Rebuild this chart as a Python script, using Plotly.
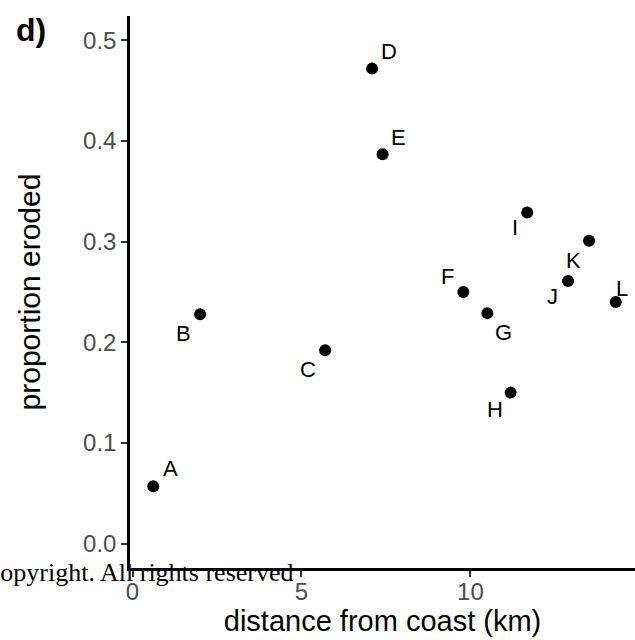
import plotly.graph_objects as go

# data
sites = ["A", "B", "C", "D", "E", "F", "G", "H", "I", "J", "K", "L"]
distance_km = [0.615, 2.00, 5.70, 7.09, 7.40, 9.79, 10.50, 11.19, 11.68, 12.89, 13.51, 14.30]
prop_eroded = [0.057, 0.228, 0.192, 0.472, 0.387, 0.250, 0.229, 0.150, 0.329, 0.261, 0.301, 0.240]
x_ticks = [0, 5, 10]
y_ticks = [0.0, 0.1, 0.2, 0.3, 0.4, 0.5]
y_tick_text = ["0.0", "0.1", "0.2", "0.3", "0.4", "0.5"]

# label offsets (pixels, right / up)
label_shift = {
    "A": (17, 18), "B": (-17, -19), "C": (-17, -19), "D": (17, 17),
    "E": (16, 17), "F": (-16, 16), "G": (16, -19), "H": (-16, -17),
    "I": (-12, -15), "J": (-16, -16), "K": (-16, -20), "L": (6, 14),
}

FONT = "Liberation Sans, Arial, sans-serif"

fig = go.Figure()
fig.add_trace(go.Scatter(
    x=distance_km, y=prop_eroded, mode="markers",
    marker=dict(color="black", size=12),
    hoverinfo="skip", showlegend=False,
))

for s, xv, yv in zip(sites, distance_km, prop_eroded):
    dx, dy = label_shift[s]
    fig.add_annotation(x=xv, y=yv, text=s, showarrow=False,
                       xshift=dx, yshift=dy,
                       font=dict(family=FONT, size=22, color="black"))

axis_common = dict(
    showgrid=False, zeroline=False, showline=True,
    linecolor="black", linewidth=2.5,
    ticks="outside", ticklen=6, tickwidth=2, tickcolor="#333333",
    tickfont=dict(family=FONT, size=24, color="#4d4d4d"),
    mirror=False,
)

fig.update_layout(
    width=635, height=640,
    margin=dict(l=130, r=0, t=16, b=72),
    plot_bgcolor="white", paper_bgcolor="white",
    xaxis=dict(range=[-0.074, 14.87], tickvals=x_ticks, ticklabelstandoff=-6,
               title=dict(text="distance from coast (km)", standoff=1,
                          font=dict(family=FONT, size=29, color="black")),
               **axis_common),
    yaxis=dict(range=[-0.0243, 0.5243], tickvals=y_ticks, ticktext=y_tick_text,
               title=dict(text="proportion eroded", standoff=34,
                          font=dict(family=FONT, size=30, color="black")),
               **axis_common),
)

fig.add_annotation(xref="paper", yref="paper", x=(31 - 130) / 505, y=1.0,
                   xanchor="center", yanchor="middle", yshift=-14,
                   text="<b>d)</b>", showarrow=False,
                   font=dict(family=FONT, size=32, color="black"))

fig.add_annotation(xref="paper", yref="paper", x=(296 - 130) / 505, y=-4 / 552,
                   xanchor="right", yanchor="middle",
                   text="Copyright. All rights reserved", showarrow=False,
                   font=dict(family="Liberation Serif, Times New Roman, serif",
                             size=26, color="black"))

fig.write_html("out.html")
